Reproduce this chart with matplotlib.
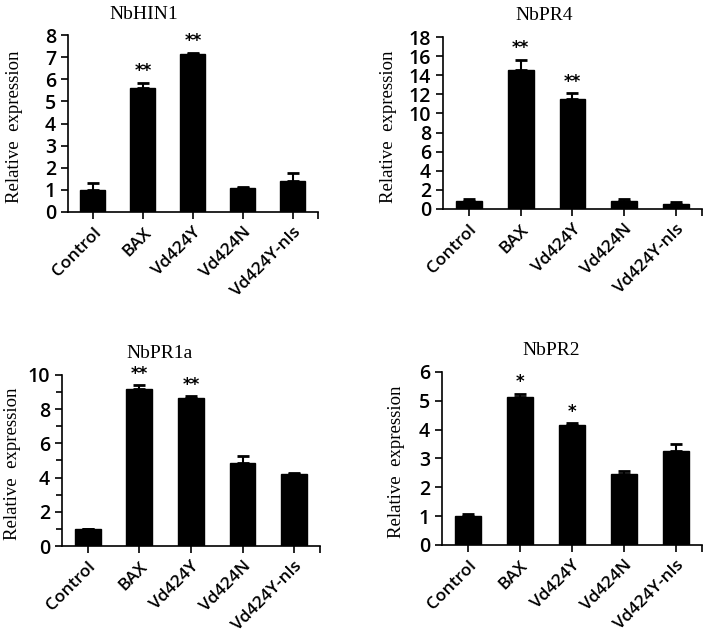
import matplotlib.pyplot as plt
import numpy as np

groups = ["Control", "BAX", "Vd424Y", "Vd424N", "Vd424Y-nls"]

hin1_mean = [1.0, 5.6, 7.15, 1.1, 1.4]
hin1_err = [0.3, 0.25, 0.05, 0.05, 0.35]
hin1_sig = ["", "**", "**", "", ""]

pr4_mean = [0.85, 14.5, 11.5, 0.85, 0.5]
pr4_err = [0.2, 1.1, 0.6, 0.2, 0.2]
pr4_sig = ["", "**", "**", "", ""]

pr1a_mean = [1.0, 9.2, 8.65, 4.85, 4.2]
pr1a_err = [0.0, 0.2, 0.1, 0.4, 0.05]
pr1a_sig = ["", "**", "**", "", ""]

pr2_mean = [1.0, 5.15, 4.15, 2.45, 3.25]
pr2_err = [0.07, 0.1, 0.07, 0.1, 0.25]
pr2_sig = ["", "*", "*", "", ""]

# title, means, errors, marks, ymax, step, minor ticks, axes rect, ylabel x, title x
panels = [
    ("NbHIN1", hin1_mean, hin1_err, hin1_sig, 8, 1, False,
     [0.0959, 0.6667, 0.3526, 0.278], -0.18, 0.304),
    ("NbPR4", pr4_mean, pr4_err, pr4_sig, 18, 2, False,
     [0.6248, 0.6714, 0.3653, 0.2704], -0.178, 0.39),
    ("NbPR1a", pr1a_mean, pr1a_err, pr1a_sig, 10, 2, True,
     [0.0874, 0.1415, 0.3639, 0.2689], -0.159, 0.38),
    ("NbPR2", pr2_mean, pr2_err, pr2_sig, 6, 1, False,
     [0.6234, 0.1431, 0.3667, 0.2720], -0.142, 0.419),
]

serif = "Liberation Serif"
sans = "Open Sans"

fig = plt.figure(figsize=(7.09, 6.36), dpi=100)

for title, mean, err, sig, ymax, step, minor, rect, labx, titx in panels:
    ax = fig.add_axes(rect)
    x = np.arange(len(groups))
    ax.bar(x, mean, width=0.5, color="black", edgecolor="black", zorder=2)
    ax.errorbar(x, mean, yerr=[np.zeros(len(err)), err], fmt="none",
                ecolor="black", elinewidth=1.5, capsize=4, capthick=2, zorder=3)
    for xi, m, e, s in zip(x, mean, err, sig):
        if s:
            ax.text(xi, m + e + ymax * 0.015, s, ha="center", va="bottom",
                    fontsize=12, fontweight="bold", family="DejaVu Sans")

    ax.set_xlim(-0.5, 4.5)
    ax.set_ylim(0, ymax)
    ax.set_yticks(np.arange(0, ymax + 0.01, step))
    if minor:
        ax.set_yticks(np.arange(1, ymax, 2), minor=True)
        ax.tick_params(axis="y", which="minor", length=4, width=1.2)
    ax.set_xticks(x)
    ax.set_xticks([4.5], minor=True)
    ax.tick_params(axis="x", which="minor", length=5, width=1.2)
    ax.set_xticklabels(groups, rotation=45, ha="right", rotation_mode="anchor",
                       family=sans, fontsize=12.5, fontweight="semibold")
    for lab in ax.get_yticklabels():
        lab.set_family(sans)
        lab.set_fontsize(14)
        lab.set_fontweight("semibold")
    ax.tick_params(axis="both", which="major", length=5, width=1.2, direction="out")
    ax.tick_params(axis="x", pad=4)
    ax.spines["top"].set_visible(False)
    ax.spines["right"].set_visible(False)
    ax.spines["left"].set_linewidth(1.2)
    ax.spines["bottom"].set_linewidth(1.2)
    ax.set_ylabel("Relative  expression", family=serif, fontsize=13.5)
    ax.yaxis.set_label_coords(labx, 0.48)
    ax.set_title(title, family=serif, fontsize=14, pad=12, x=titx)

fig.savefig("out.png", dpi=100)
